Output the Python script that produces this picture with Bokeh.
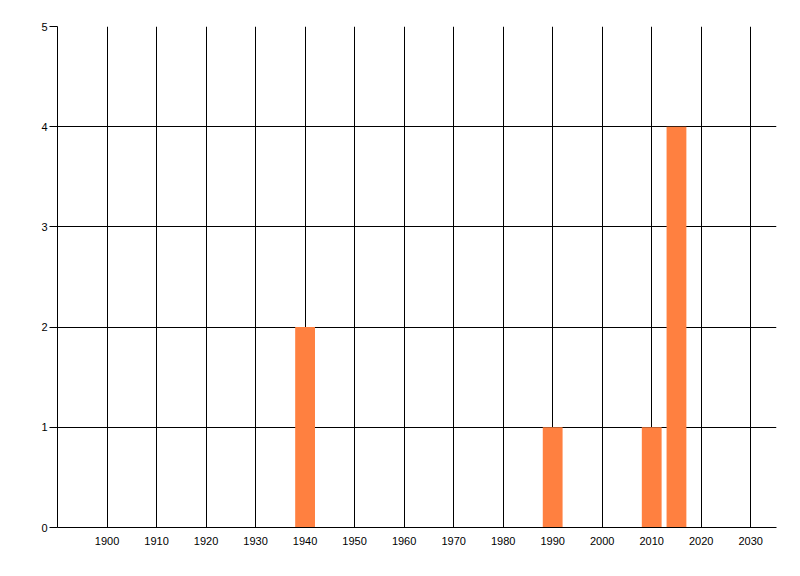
from bokeh.plotting import figure
from bokeh.models import Range1d, FixedTicker
from bokeh.embed import file_html
from bokeh.resources import INLINE

years = [1940, 1990, 2010, 2015]
counts = [2, 1, 1, 4]
x_ticks = [1900, 1910, 1920, 1930, 1940, 1950, 1960, 1970, 1980, 1990, 2000, 2010, 2020, 2030]
y_ticks = [0, 1, 2, 3, 4, 5]

p = figure(width=792, height=568, output_backend="svg", toolbar_location=None,
           x_range=Range1d(1890, 2035.2), y_range=Range1d(0, 5),
           min_border_left=57, min_border_top=26, min_border_right=16, min_border_bottom=41)
p.outline_line_color = None
p.background_fill_color = "white"
p.border_fill_color = "white"

p.vbar(x=years, top=counts, width=4, fill_color="#FF8040", line_color=None)

p.xaxis.ticker = FixedTicker(ticks=x_ticks)
p.yaxis.ticker = FixedTicker(ticks=y_ticks)
for g in p.grid:
    g.grid_line_color = "black"
    g.grid_line_width = 1
    g.grid_line_alpha = 1

for ax in (p.xaxis[0], p.yaxis[0]):
    ax.axis_line_color = "black"
    ax.axis_line_width = 1
    ax.minor_tick_line_color = None
    ax.major_label_text_font = "Liberation Sans"
    ax.major_label_text_font_size = "11px"
    ax.major_label_text_color = "black"

p.xaxis.major_tick_out = 0
p.xaxis.major_tick_in = 0
p.xaxis.major_label_standoff = 9
p.yaxis.major_tick_out = 8
p.yaxis.major_tick_in = 0
p.yaxis.major_tick_line_color = "black"
p.yaxis.major_label_standoff = 2

open("out.html", "w").write(file_html(p, INLINE))
